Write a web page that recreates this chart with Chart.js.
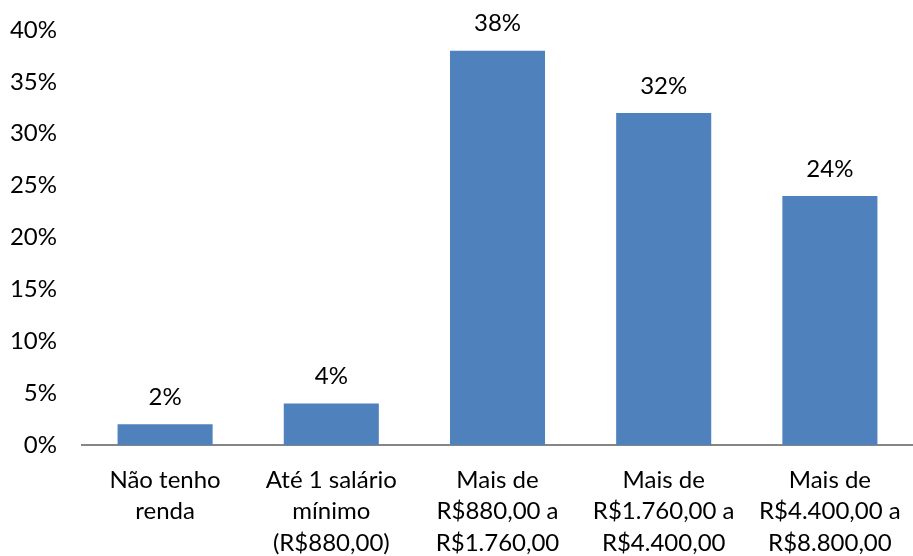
<!DOCTYPE html>
<html>
<head>
<meta charset="utf-8">
<script src="https://cdn.jsdelivr.net/npm/chart.js@4"></script>
<style>
  html, body { margin: 0; padding: 0; background: #fff; }
  #wrap { width: 913px; height: 556px; }
</style>
</head>
<body>
<div id="wrap"><canvas id="c"></canvas></div>
<script>
// categorias (faixas de renda)
const categorias = [
  ['Não tenho', 'renda'],
  ['Até 1 salário', 'mínimo', '(R$880,00)'],
  ['Mais de', 'R$880,00 a', 'R$1.760,00'],
  ['Mais de', 'R$1.760,00 a', 'R$4.400,00'],
  ['Mais de', 'R$4.400,00 a', 'R$8.800,00']
];
const percentuais = [2, 4, 38, 32, 24];
const yTicks = [0, 5, 10, 15, 20, 25, 30, 35, 40];

const fonte = { family: 'Lato, "Open Sans", sans-serif', size: 24 };

// rotulos em cima das barras
const rotulos = {
  id: 'rotulos',
  afterDatasetsDraw(chart) {
    const ctx = chart.ctx;
    const meta = chart.getDatasetMeta(0);
    ctx.save();
    ctx.font = `${fonte.size}px ${fonte.family}`;
    ctx.fillStyle = '#000';
    ctx.textAlign = 'center';
    ctx.textBaseline = 'bottom';
    meta.data.forEach((bar, i) => {
      ctx.fillText(percentuais[i] + '%', bar.x, bar.y - 15);
    });
    ctx.restore();
  }
};

new Chart(document.getElementById('c'), {
  type: 'bar',
  data: {
    labels: categorias,
    datasets: [{
      data: percentuais,
      backgroundColor: '#4F81BD',
      borderWidth: 0,
      barPercentage: 1,
      categoryPercentage: 0.572
    }]
  },
  options: {
    responsive: true,
    maintainAspectRatio: false,
    animation: false,
    layout: { padding: { top: 30, left: 0, right: 0, bottom: 0 } },
    plugins: {
      legend: { display: false },
      tooltip: { enabled: false }
    },
    scales: {
      x: {
        grid: { display: false, drawTicks: false },
        border: { display: true, color: '#868686', width: 2 },
        ticks: {
          color: '#000',
          font: { ...fonte, lineHeight: 1.32 },
          padding: 19,
          maxRotation: 0,
          autoSkip: false
        },
        afterFit(s) {
          s.height = 111;
          s.paddingLeft = 0;
          s.paddingRight = 0;
        }
      },
      y: {
        min: 0,
        max: 40,
        grid: { display: false, drawTicks: false },
        border: { display: false },
        afterBuildTicks(s) { s.ticks = yTicks.map(v => ({ value: v })); },
        ticks: {
          color: '#000',
          font: fonte,
          padding: 25,
          callback: v => v + '%'
        },
        afterFit(s) {
          s.width = 82;
          s.paddingTop = 0;
          s.paddingBottom = 0;
        }
      }
    }
  },
  plugins: [rotulos]
});
</script>
</body>
</html>
